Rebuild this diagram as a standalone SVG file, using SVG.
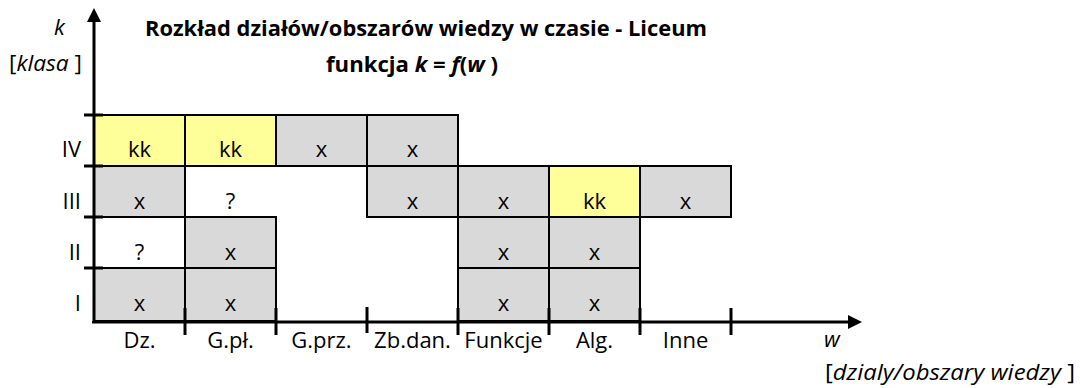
<svg xmlns="http://www.w3.org/2000/svg" width="1080" height="388" viewBox="0 0 1080 388">
<style>
text{font-family:"Open Sans","Noto Sans",sans-serif;fill:#000;font-size:22px}
.c{text-anchor:middle}
.r{text-anchor:end}
.g{fill:#D9D9D9;stroke:#000;stroke-width:2}
.y{fill:#FFFF99;stroke:#000;stroke-width:2}
.ax{stroke:#000;stroke-width:3;fill:none}
.tk{stroke:#000;stroke-width:3}
.t{font-size:22px;font-weight:bold}
.i{font-style:italic}
</style>
<rect width="1080" height="388" fill="#fff"/>
<g id="cells">
<rect class="y" x="94" y="115" width="91" height="51"/>
<rect class="y" x="185" y="115" width="91" height="51"/>
<rect class="g" x="276" y="115" width="91" height="51"/>
<rect class="g" x="367" y="115" width="91" height="51"/>
<rect class="g" x="94" y="166" width="91" height="51"/>
<rect class="g" x="367" y="166" width="91" height="51"/>
<rect class="g" x="458" y="166" width="91" height="51"/>
<rect class="y" x="549" y="166" width="91" height="51"/>
<rect class="g" x="640" y="166" width="91" height="51"/>
<rect class="g" x="185" y="217" width="91" height="51"/>
<rect class="g" x="458" y="217" width="91" height="51"/>
<rect class="g" x="549" y="217" width="91" height="51"/>
<rect class="g" x="94" y="268" width="91" height="53"/>
<rect class="g" x="185" y="268" width="91" height="53"/>
<rect class="g" x="458" y="268" width="91" height="53"/>
<rect class="g" x="549" y="268" width="91" height="53"/>
</g>
<g id="cell-labels" class="c">
<text x="139.5" y="157">kk</text>
<text x="230.5" y="157">kk</text>
<text x="321.5" y="157">x</text>
<text x="412.5" y="157">x</text>
<text x="139.5" y="209">x</text>
<text x="230.5" y="209">?</text>
<text x="412.5" y="209">x</text>
<text x="503.5" y="209">x</text>
<text x="594.5" y="209">kk</text>
<text x="685.5" y="209">x</text>
<text x="139.5" y="260">?</text>
<text x="230.5" y="260">x</text>
<text x="503.5" y="260">x</text>
<text x="594.5" y="260">x</text>
<text x="139.5" y="311">x</text>
<text x="230.5" y="311">x</text>
<text x="503.5" y="311">x</text>
<text x="594.5" y="311">x</text>
</g>
<g id="connectors">
<line class="ax" x1="94" y1="320" x2="94" y2="20"/>
<polygon points="94,8 87,22 101,22"/>
<line class="ax" x1="92" y1="322" x2="850" y2="322"/>
<polygon points="862,322 848,315 848,329"/>
<g class="tk">
<line x1="84" y1="115" x2="103" y2="115"/>
<line x1="84" y1="166" x2="103" y2="166"/>
<line x1="84" y1="217" x2="103" y2="217"/>
<line x1="84" y1="268" x2="103" y2="268"/>
<line x1="185" y1="308" x2="185" y2="335"/>
<line x1="276" y1="308" x2="276" y2="335"/>
<line x1="367" y1="307" x2="367" y2="333"/>
<line x1="458" y1="308" x2="458" y2="335"/>
<line x1="549" y1="308" x2="549" y2="335"/>
<line x1="640" y1="308" x2="640" y2="335"/>
<line x1="731" y1="308" x2="731" y2="335"/>
</g>
</g>
<g id="axis-labels">
<text x="54" y="35" class="i">k</text>
<text x="9" y="71" textLength="73" lengthAdjust="spacingAndGlyphs">[<tspan class="i">klasa</tspan> ]</text>
<text class="r" x="81" y="157">IV</text>
<text class="r" x="81" y="209">III</text>
<text class="r" x="81" y="260">II</text>
<text class="r" x="81" y="311">I</text>
<text class="c" x="139.5" y="348">Dz.</text>
<text class="c" x="230.5" y="348">G.pł.</text>
<text class="c" x="321.5" y="348">G.prz.</text>
<text class="c" x="412.5" y="348">Zb.dan.</text>
<text class="c" x="503.5" y="348">Funkcje</text>
<text class="c" x="594.5" y="348">Alg.</text>
<text class="c" x="685.5" y="348">Inne</text>
<text class="i" x="824" y="347">w</text>
<text x="825" y="380" textLength="250" lengthAdjust="spacingAndGlyphs">[<tspan class="i">dzialy/obszary wiedzy</tspan> ]</text>
</g>
<g id="title">
<text class="t" x="145" y="36" textLength="562" lengthAdjust="spacingAndGlyphs">Rozkład działów/obszarów wiedzy w czasie - Liceum</text>
<text class="t" x="326" y="72" textLength="172" lengthAdjust="spacingAndGlyphs">funkcja <tspan class="i">k</tspan> = <tspan class="i">f</tspan>(<tspan class="i">w</tspan> )</text>
</g>
</svg>
